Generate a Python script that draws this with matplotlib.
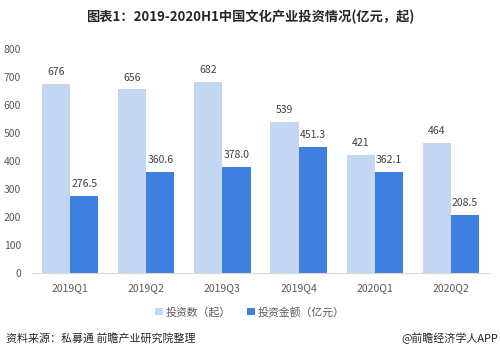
import matplotlib
matplotlib.use("Agg")
import matplotlib.pyplot as plt
import numpy as np

plt.rcParams['font.family'] = ['Noto Sans CJK SC', 'DejaVu Sans']

categories = ["2019Q1", "2019Q2", "2019Q3", "2019Q4", "2020Q1", "2020Q2"]
counts = [676, 656, 682, 539, 421, 464]
amounts = [276.5, 360.6, 378.0, 451.3, 362.1, 208.5]
count_labels = ["676", "656", "682", "539", "421", "464"]
amount_labels = ["276.5", "360.6", "378.0", "451.3", "362.1", "208.5"]
yticks = [0, 100, 200, 300, 400, 500, 600, 700, 800]

light = "#C3D7F2"
dark = "#3F7FE0"
txt = "#404040"

fig = plt.figure(figsize=(5, 3.55), dpi=100)
ax = fig.add_axes([0.064, 0.231, 0.914, 0.631])

x = np.arange(len(categories))
w = 0.37
b1 = ax.bar(x - w/2, counts, w, color=light, label="投资数（起）")
b2 = ax.bar(x + w/2, amounts, w, color=dark, label="投资金额（亿元）")

for xi, v, lab in zip(x, counts, count_labels):
    ax.text(xi - w/2, v + 24, lab, ha="center", va="bottom", fontsize=7.5, color=txt)
for xi, v, lab in zip(x, amounts, amount_labels):
    ax.text(xi + w/2, v + 24, lab, ha="center", va="bottom", fontsize=7.5, color=txt)

ax.set_xlim(-0.5, len(categories) - 0.5)
ax.set_ylim(0, 800)
ax.set_yticks(yticks)
ax.set_xticks(x)
ax.set_xticklabels(categories)
ax.tick_params(axis="both", length=0, labelsize=7.5, labelcolor="#595959")
ax.tick_params(axis="x", pad=7)
ax.tick_params(axis="y", pad=8)
for s in ["top", "right", "left"]:
    ax.spines[s].set_visible(False)
ax.spines["bottom"].set_color("#D9D9D9")

fig.text(0.5, 0.952, "图表1：2019-2020H1中国文化产业投资情况(亿元，起)", ha="center", va="center",
         fontsize=9.5, fontweight="bold", color="#262626")

leg = fig.legend(handles=[b1, b2], loc="center", bbox_to_anchor=(0.5, 0.121), ncol=2,
                 frameon=False, fontsize=7.8, handlelength=0.7, handleheight=0.7,
                 handletextpad=0.3, columnspacing=1.5)
for t in leg.get_texts():
    t.set_color("#595959")

fig.text(0.012, 0.048, "资料来源：私募通 前瞻产业研究院整理", ha="left", va="center", fontsize=7.9, color="#262626")
fig.text(0.996, 0.048, "@前瞻经济学人APP", ha="right", va="center", fontsize=7.9, color="#262626")

fig.savefig("out.png", dpi=100)
